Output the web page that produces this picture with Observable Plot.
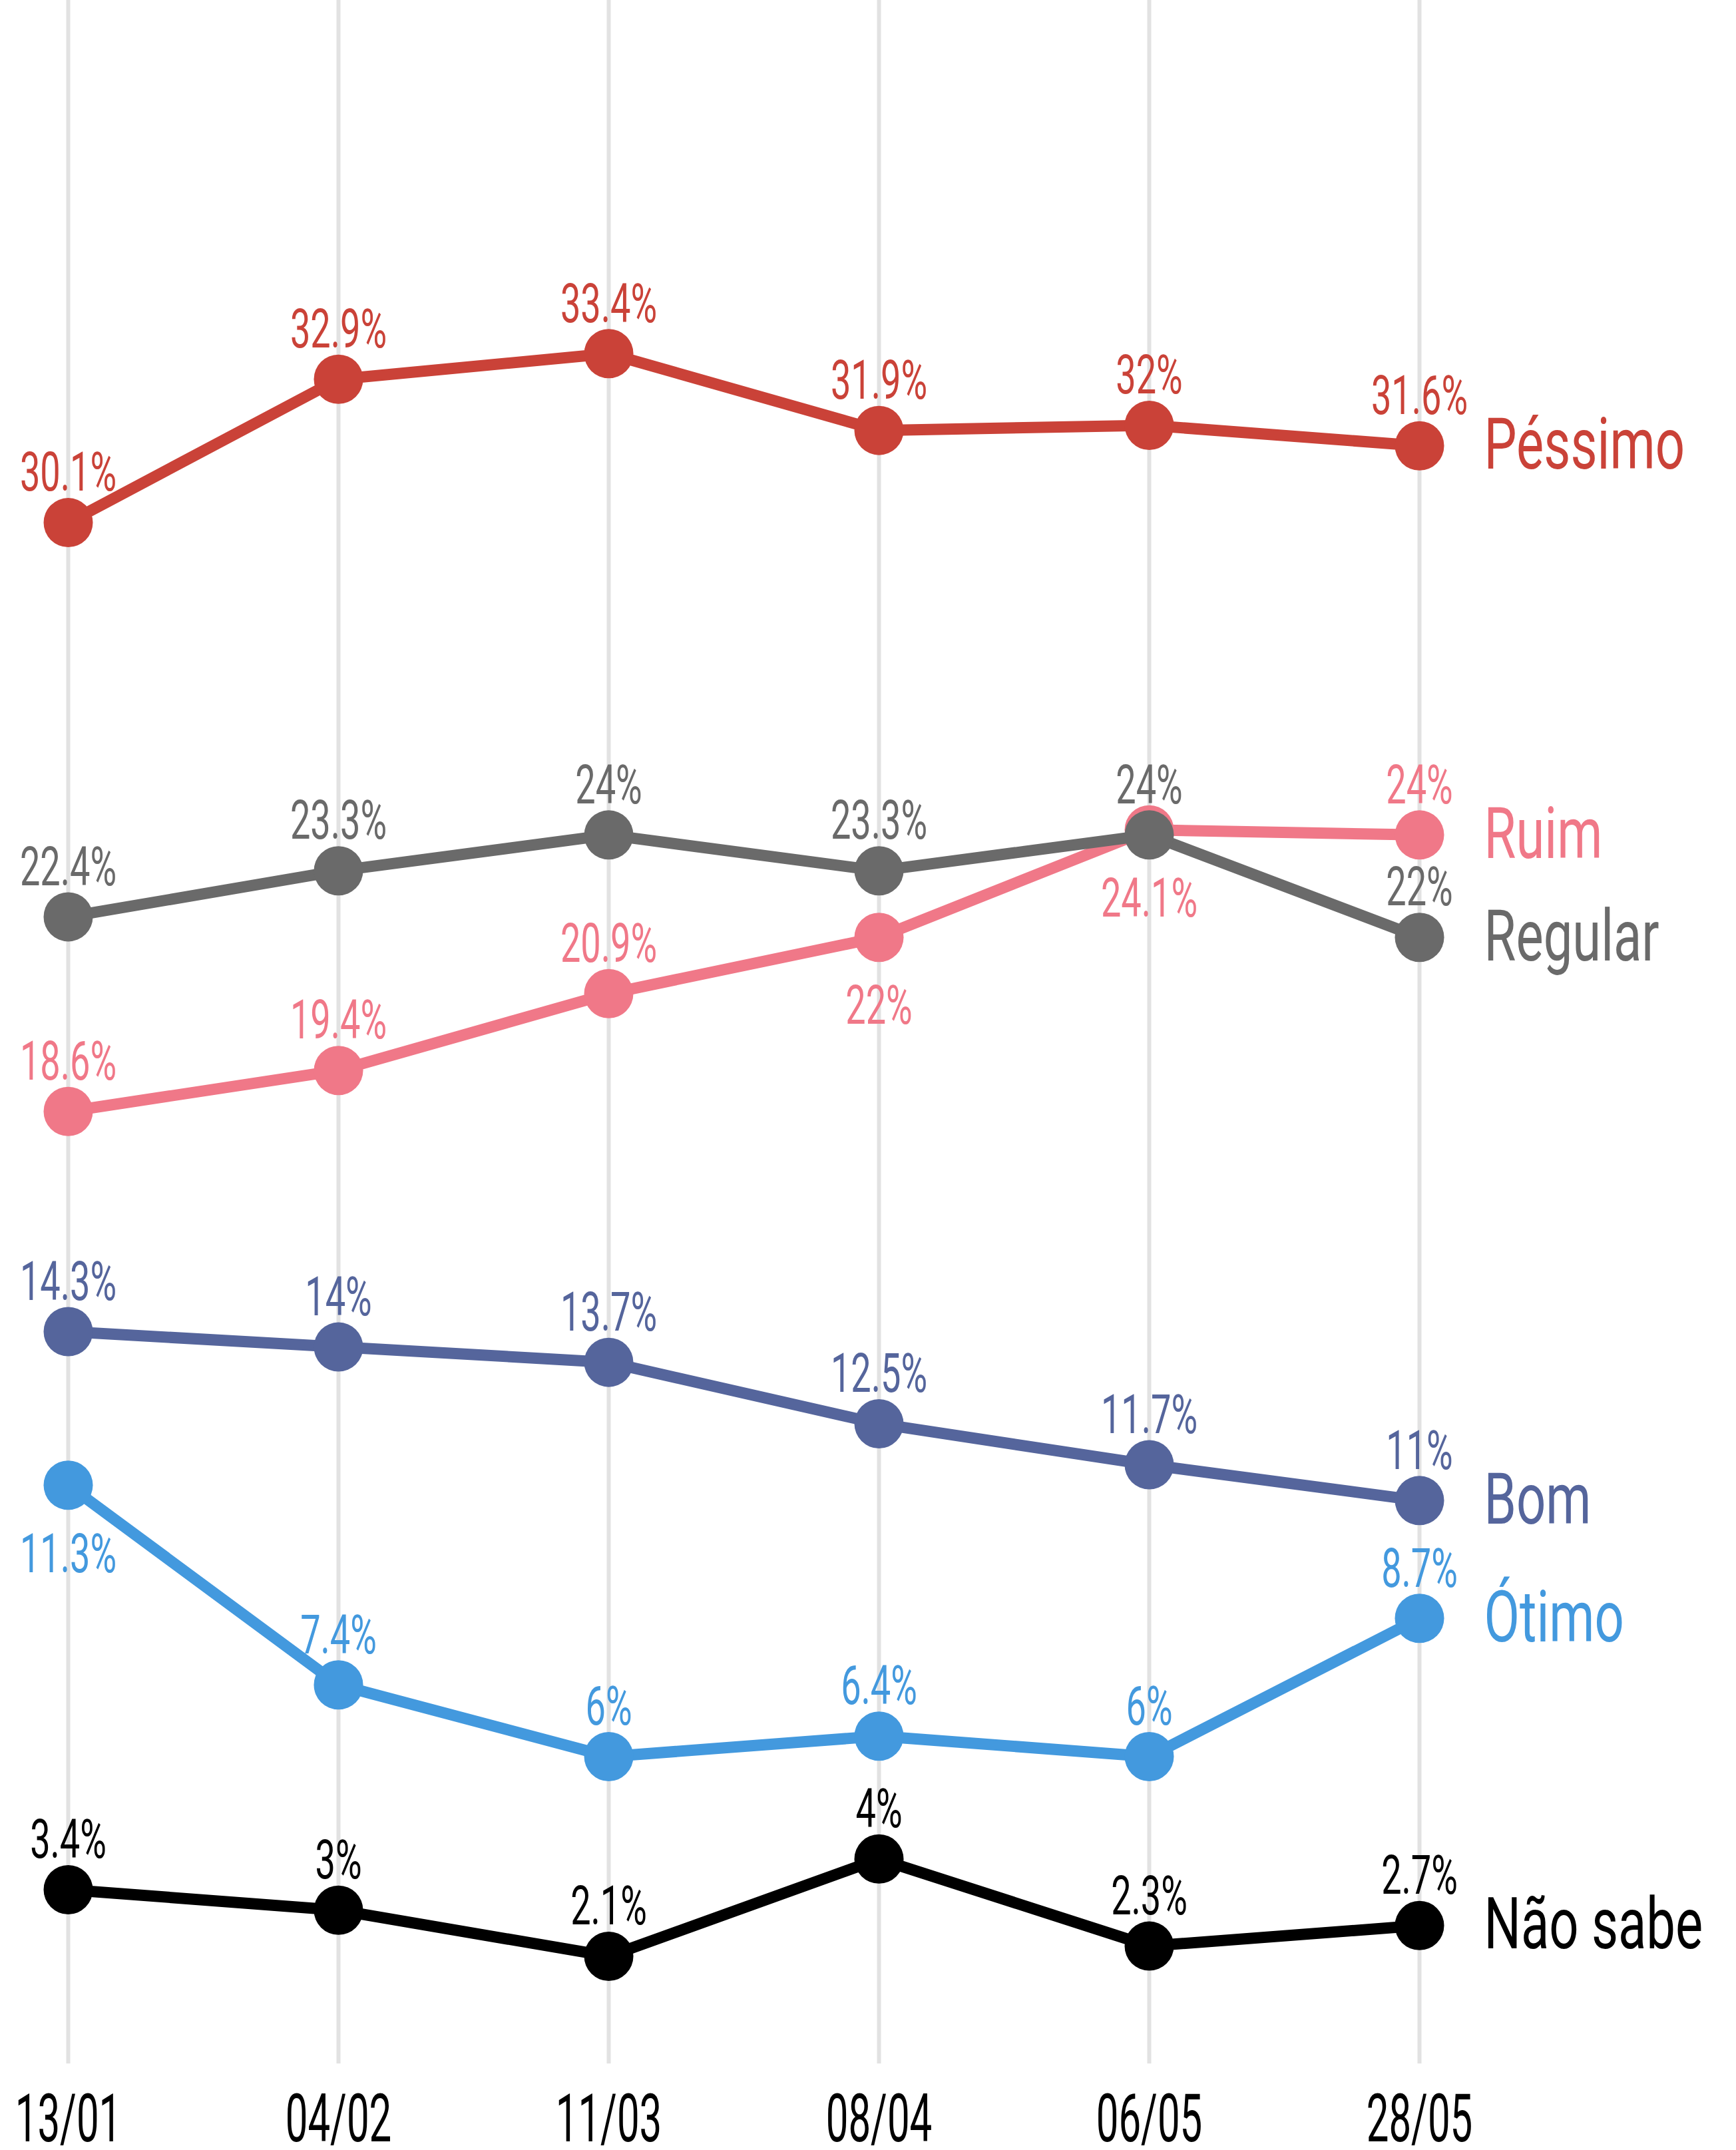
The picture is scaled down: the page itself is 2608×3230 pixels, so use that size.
<!DOCTYPE html>
<html><head><meta charset="utf-8">
<script src="https://cdn.jsdelivr.net/npm/d3@7"></script>
<script src="https://cdn.jsdelivr.net/npm/@observablehq/plot@0.6"></script>
<style>html,body{margin:0;background:#fff;} #chart{width:2608px;height:3230px;}</style>
</head><body><div id="chart"></div>
<script>
const dates = ["13/01", "04/02", "11/03", "08/04", "06/05", "28/05"];
const pessimo = [30.1, 32.9, 33.4, 31.9, 32, 31.6];
const ruim = [18.6, 19.4, 20.9, 22, 24.1, 24];
const regular = [22.4, 23.3, 24, 23.3, 24, 22];
const bom = [14.3, 14, 13.7, 12.5, 11.7, 11];
const otimo = [11.3, 7.4, 6, 6.4, 6, 8.7];
const naoSabe = [3.4, 3, 2.1, 4, 2.3, 2.7];
const seriesNames = ["Péssimo", "Ruim", "Regular", "Bom", "Ótimo", "Não sabe"];
const seriesValues = [pessimo, ruim, regular, bom, otimo, naoSabe];

// styles
const colors = ["#ca4238", "#f07888", "#6a6a6a", "#55659c", "#4399de", "#000000"];
const belowLabels = new Set(["Ruim|08/04", "Ruim|06/05", "Ótimo|13/01"]);

const fmt = v => `${v}%`;
const marks = [Plot.ruleX(dates, {x: d => d, stroke: "#e2e2e2", strokeWidth: 6})];

seriesNames.forEach((name, si) => {
  const rows = dates.map((date, di) => ({series: name, date, value: seriesValues[si][di]}));
  const color = colors[si];
  const above = rows.filter(r => !belowLabels.has(`${r.series}|${r.date}`));
  const below = rows.filter(r => belowLabels.has(`${r.series}|${r.date}`));
  marks.push(
    Plot.line(rows, {x: "date", y: "value", stroke: color, strokeWidth: 17}),
    Plot.dot(rows, {x: "date", y: "value", r: 37, fill: color, stroke: "none"}),
    Plot.text(above, {x: "date", y: "value", text: d => fmt(d.value), fill: color, fontSize: 82, lineAnchor: "middle", dy: -74}),
    Plot.text(below, {x: "date", y: "value", text: d => fmt(d.value), fill: color, fontSize: 82, lineAnchor: "middle", dy: 104}),
    Plot.text(rows.slice(-1), {x: "date", y: "value", text: "series", fill: color, fontSize: 108, textAnchor: "start", lineAnchor: "middle", dx: 97})
  );
});

marks.push(Plot.axisX({tickSize: 0, tickPadding: 45, fontSize: 100, fill: "#000", label: null}));

const chart = Plot.plot({
  width: 2608,
  height: 3230,
  marginTop: 0,
  marginBottom: 130,
  marginLeft: 101,
  marginRight: 476,
  x: {type: "point", domain: dates, padding: 0, axis: null, label: null},
  y: {domain: [0, 40.3], axis: null},
  style: {fontFamily: "Roboto, 'Liberation Sans', sans-serif", background: "#fff"},
  marks
});
document.getElementById("chart").appendChild(chart);

// condensed look of the original typeface: squeeze each text horizontally around its anchor
chart.querySelectorAll("text").forEach(t => {
  const g = t.closest("g[font-size]");
  const fs = g ? +g.getAttribute("font-size") : 10;
  const f = fs >= 105 ? 0.72 : fs >= 95 ? 0.6 : 0.66;
  const tr = t.getAttribute("transform") || "";
  t.setAttribute("transform", `${tr} scale(${f},1)`.trim());
});
</script>
</body></html>
